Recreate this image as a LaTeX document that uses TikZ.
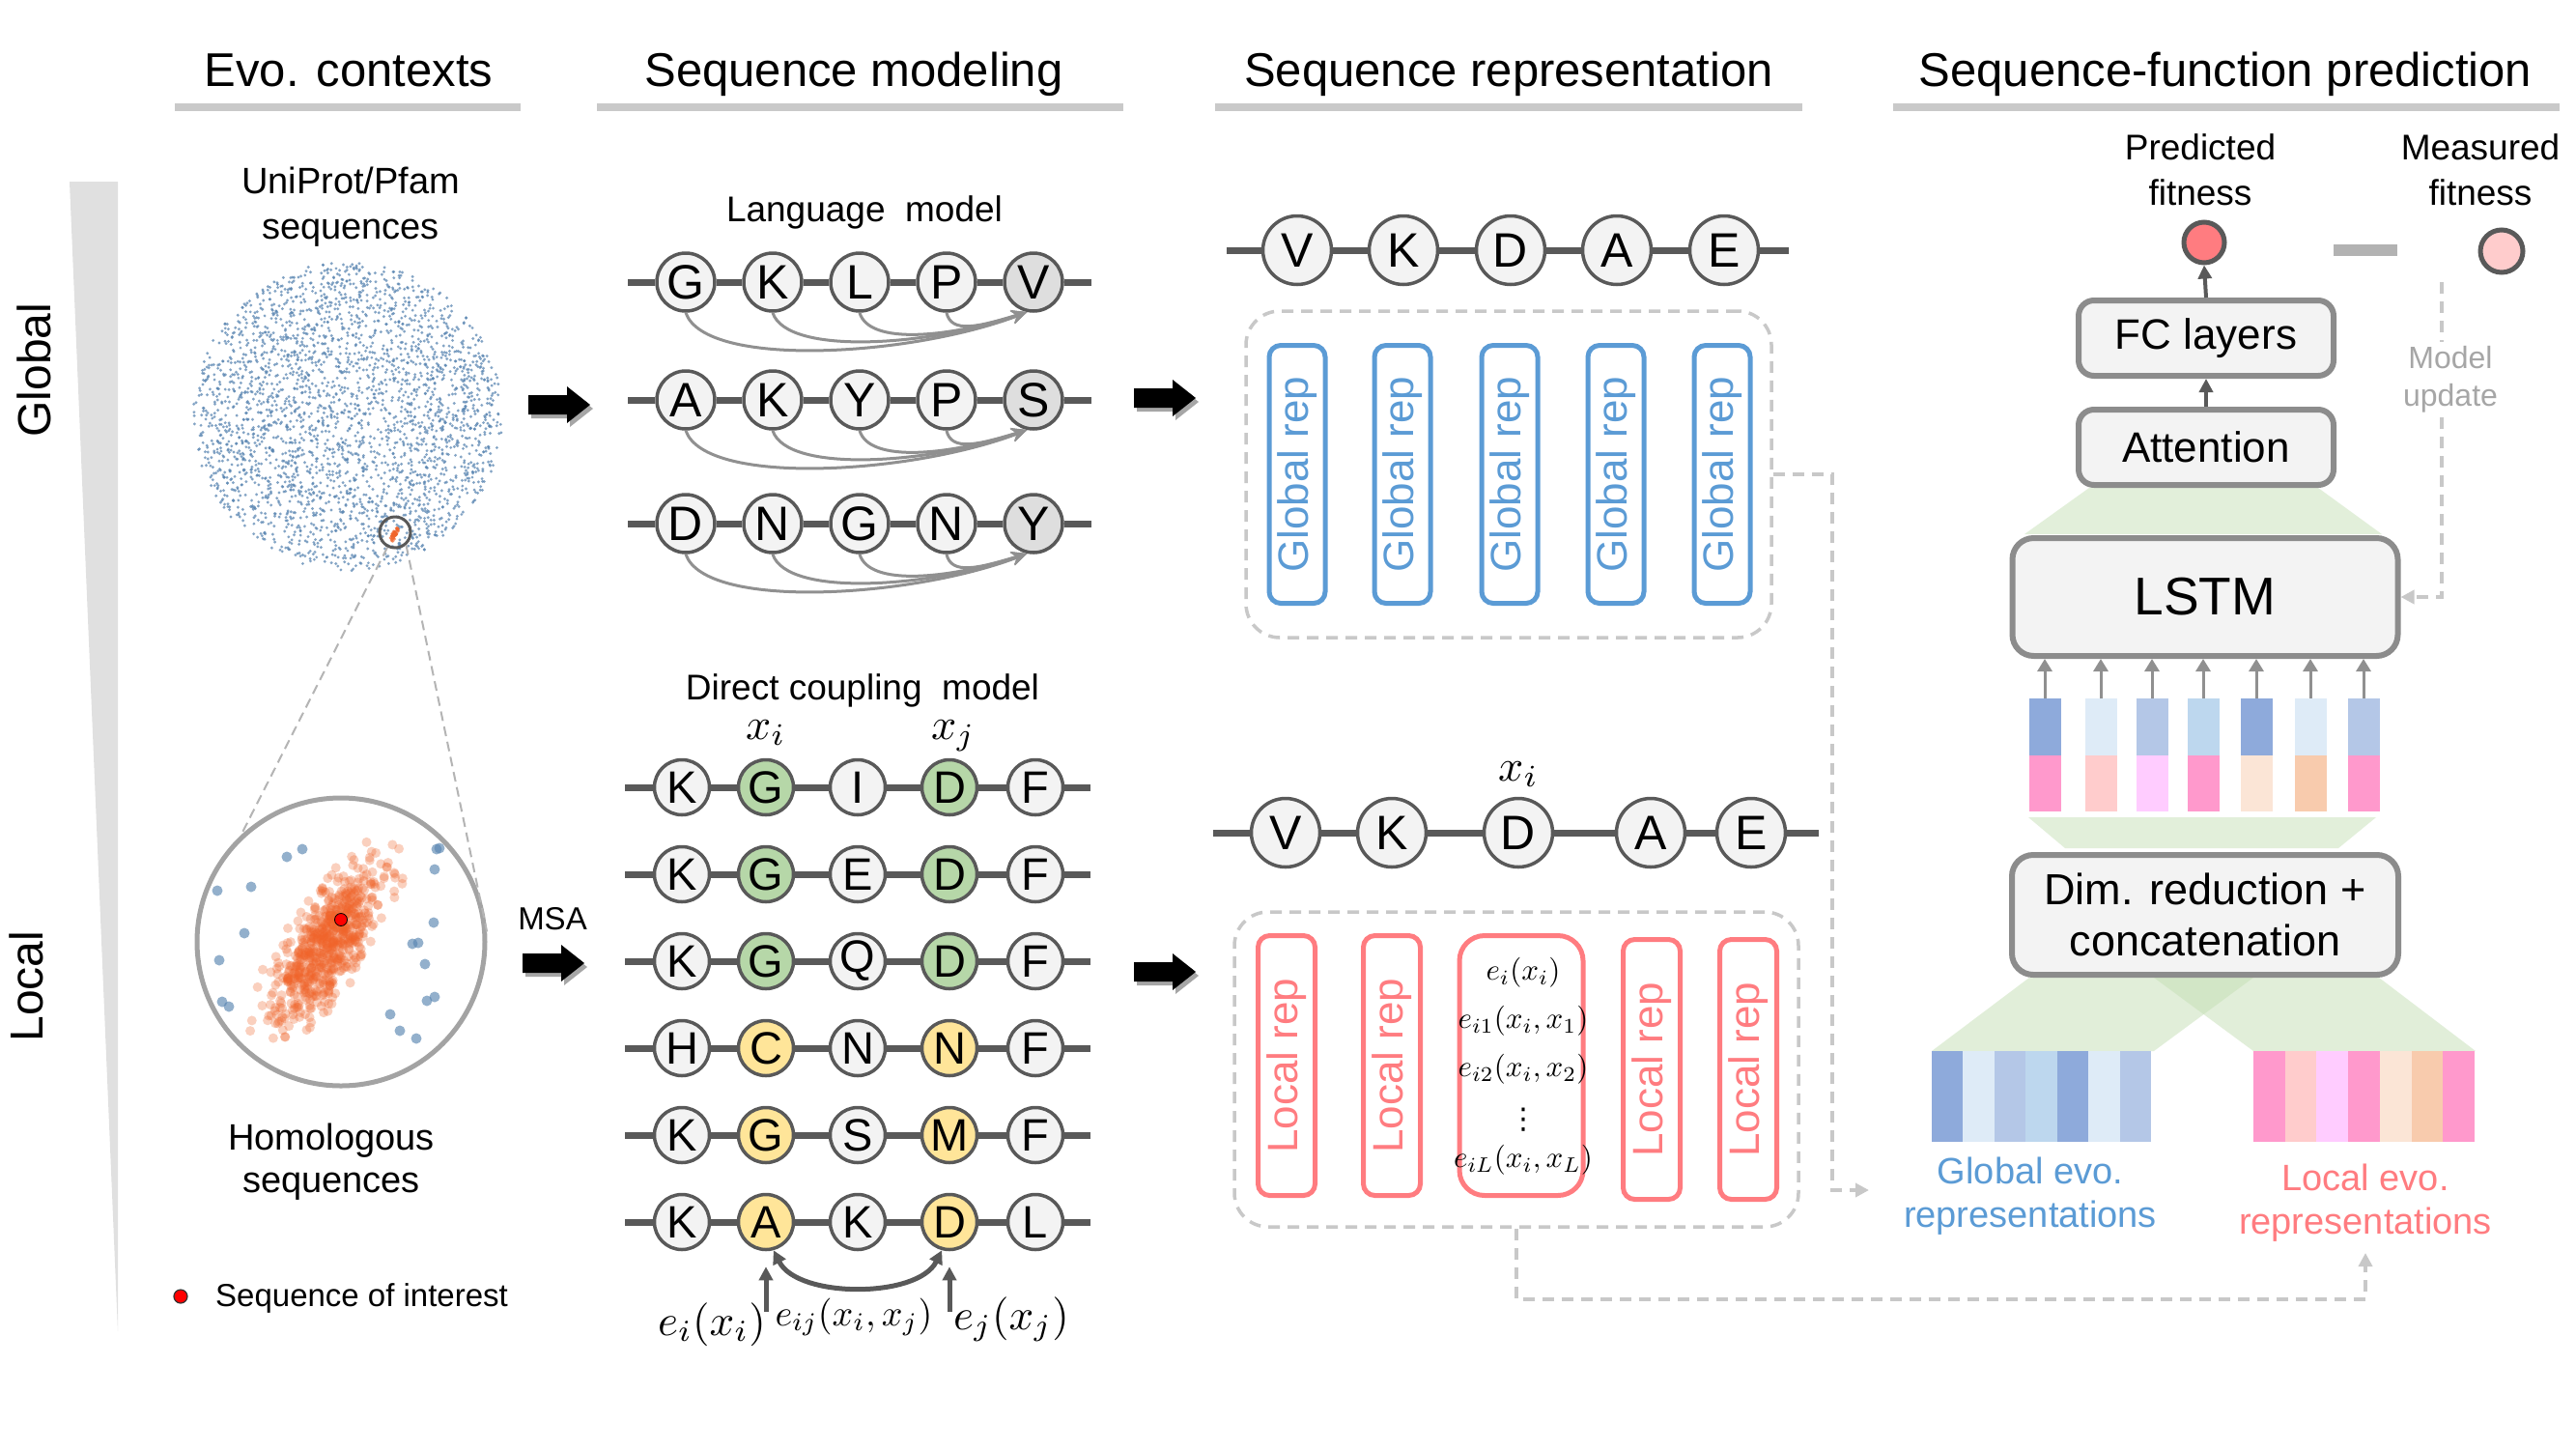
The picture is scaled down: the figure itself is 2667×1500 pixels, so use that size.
\documentclass[tikz,border=0pt]{standalone}
\usepackage{graphicx}
\usepackage[no-math]{fontspec}
\setmainfont{Liberation Sans}
\newfontfamily\dejavu{DejaVu Sans}
\usetikzlibrary{arrows.meta}
\newcommand{\fsz}[2]{\fontsize{#1}{#2}\selectfont}
\newcommand{\mth}[2]{\scalebox{#1}{\normalsize$#2$}}
\definecolor{cfill}{HTML}{F3F3F3}
\definecolor{cfilld}{HTML}{DEDEDE}
\definecolor{cedge}{HTML}{595959}
\definecolor{barg}{HTML}{C9C9C9}
\definecolor{arcg}{HTML}{909090}
\definecolor{gfill}{HTML}{B6D7A8}
\definecolor{yfill}{HTML}{FFE599}
\definecolor{bluerep}{HTML}{5B9BD5}
\definecolor{pinkrep}{HTML}{FF7C80}
\definecolor{boxedge}{HTML}{8C8C8C}
\definecolor{boxfill}{HTML}{F3F3F3}
\definecolor{trapl}{HTML}{E2EFDA}
\definecolor{trapd}{HTML}{C5DFB5}
\definecolor{dashg}{HTML}{C8C8C8}
\definecolor{wedgeg}{HTML}{E0E0E0}
\definecolor{b1}{HTML}{8EAADB}
\definecolor{b2}{HTML}{DEEBF7}
\definecolor{b3}{HTML}{B4C7E7}
\definecolor{b4}{HTML}{BDD7EE}
\definecolor{p1}{HTML}{FF99CC}
\definecolor{p2}{HTML}{FFCCCC}
\definecolor{p3}{HTML}{FFCCFF}
\definecolor{p4}{HTML}{FBE5D6}
\definecolor{p5}{HTML}{F8CBAD}
\definecolor{predc}{HTML}{FF7C80}
\definecolor{measc}{HTML}{FFCCCC}
\definecolor{scatb}{HTML}{5A86B2}
\definecolor{orng}{HTML}{F0642A}
\definecolor{updg}{HTML}{A6A6A6}
\begin{document}
\begin{tikzpicture}[x=1pt,y=-1pt,
  title/.style={font={\fsz{49}{58}}, anchor=base, inner sep=0},
  lab/.style={font={\fsz{38}{46}}, anchor=base, inner sep=0},
  bar/.style={line width=8, draw=barg},
  lmc/.style={circle, draw=cedge, line width=3.5, fill=cfill, minimum size=60, inner sep=0, font={\fsz{50}{56}}},
  dcc/.style={circle, draw=cedge, line width=3.5, fill=cfill, minimum size=57, inner sep=0, font={\fsz{47}{52}}},
  rpc/.style={circle, draw=cedge, line width=3.5, fill=cfill, minimum size=71, inner sep=0, font={\fsz{50}{56}}},
  bb/.style={line width=7, draw=cedge},
  lmarc/.style={line width=3, draw=arcg, -{Stealth[length=16pt,width=14pt]}},
  dcarc/.style={line width=5, draw=cedge, {Triangle[length=14pt,width=14pt]}-{Triangle[length=14pt,width=14pt]}},
  varr/.style={line width=5, draw=cedge, -{Triangle[length=14pt,width=14pt]}},
  grep/.style={draw=bluerep, line width=5, rounded corners=12, minimum width=267, minimum height=58, inner sep=0, rotate=90, text=bluerep, font={\fsz{44}{50}}},
  lrep/.style={draw=pinkrep, line width=5, rounded corners=12, minimum width=269, minimum height=59, inner sep=0, rotate=90, text=pinkrep, font={\fsz{44}{50}}},
  dbox/.style={draw=dashg, line width=3.5, dash pattern=on 12pt off 8pt, rounded corners=35, inner sep=0},
  dashc/.style={draw=dashg, line width=3.5, dash pattern=on 12pt off 8pt, -{Triangle[length=14pt,width=14pt]}},
  nnbox/.style={draw=boxedge, line width=6, fill=boxfill, rounded corners=16, inner sep=0},
  fitc/.style={circle, draw=cedge, line width=5, inner sep=0},
  darr/.style={line width=4, draw=cedge, -{Triangle[length=14pt,width=14pt]}},
  garr/.style={line width=3, draw=arcg, -{Triangle[length=13pt,width=15pt]}},
  blk/.style={minimum width=33, minimum height=59, inner sep=0, draw=none},
  scat/.style={fill=scatb, fill opacity=0.75},
  odot/.style={fill=orng, fill opacity=0.3},
  bdot/.style={fill=scatb, fill opacity=0.65},
  mathl/.style={anchor=base, inner sep=0},
  barrow/.pic={
    \begin{scope}[shift={(3,4)}]
      \fill[black!35] (0,-10) -- (40,-10) -- (40,-19) -- (64,0) -- (40,19) -- (40,10) -- (0,10) -- cycle;
    \end{scope}
    \fill[black] (0,-10) -- (40,-10) -- (40,-19) -- (64,0) -- (40,19) -- (40,10) -- (0,10) -- cycle;
  }
]
\useasboundingbox (0,0) rectangle (2667,1500);
\fill[white] (0,0) rectangle (2667,1500);

% ---------- titles ----------
\node[title] (t1) at (361,89) {Evo. contexts};
\node[title] (t2) at (884,89) {Sequence modeling};
\node[title] (t3) at (1562,89) {Sequence representation};
\node[title] (t4) at (2304,89) {Sequence-function prediction};
\draw[bar] (181,111) -- (539,111);
\draw[bar] (618,111) -- (1163,111);
\draw[bar] (1258,111) -- (1866,111);
\draw[bar] (1960,111) -- (2650,111);

% ---------- global/local wedge ----------
\fill[wedgeg] (72,188) -- (122,188) -- (122,1378) -- cycle;
\node[rotate=90, anchor=base, inner sep=0, font={\fsz{48}{54}}] (glab) at (52,383) {Global};
\node[rotate=90, anchor=base, inner sep=0, font={\fsz{48}{54}}] (llab) at (44,1021) {Local};

% ---------- evo contexts ----------
\node[lab] (up1) at (363,200) {UniProt/Pfam};
\node[lab] (up2) at (363,247) {sequences};
\pgfmathsetseed{7}
\foreach \k in {1,...,3000}{
  \pgfmathsetmacro\rr{160*sqrt(rnd)}
  \pgfmathsetmacro\aa{360*rnd}
  \fill[scat] ({360+\rr*cos(\aa)},{431+\rr*sin(\aa)}) circle[radius=1.6];
}
\foreach \k in {1,...,40}{
  \pgfmathsetmacro\ga{(rand+rand)*4.5}
  \pgfmathsetmacro\gb{rand*2.5}
  \fill[orng, fill opacity=0.7] ({409+\ga*0.5+\gb*0.87},{552-\ga*0.87+\gb*0.5}) circle[radius=1.8];
}
\node[circle, draw=cedge, line width=3, minimum size=32, inner sep=0] (hl) at (409,551) {};

\node[circle, draw=boxedge!80, line width=5, minimum size=298, inner sep=0] (loc) at (353,975) {};
\draw[dashg!90!black, line width=2, dash pattern=on 10pt off 6pt] (hl.243) -- (loc.133);
\draw[dashg!90!black, line width=2, dash pattern=on 10pt off 6pt] (hl.311) -- (loc.4);
\begin{scope}
  \clip (353,975) circle[radius=147];
  \foreach \px/\py in {225/922,260/918,297/887,313/879,253/966,227/994,230/1037,237/1042,452/879,455/878,450/900,449/955,427/977,433/976,440/998,450/1032,442/1036,404/1050,414/1067,431/1075}{
    \fill[bdot] (\px,\py) circle[radius=5.5];
  }
  \foreach \k in {1,...,650}{
    \pgfmathsetmacro\ga{(rand+rand+rand)*46}
    \pgfmathsetmacro\gb{(rand+rand+rand)*17}
    \fill[odot] ({338+\ga*0.515+\gb*0.857},{978-\ga*0.857+\gb*0.515}) circle[radius=5];
  }
\end{scope}
\node[circle, fill=red, draw=black, line width=0.8, minimum size=13, inner sep=0] (soi) at (353,952) {};
\node[lab] (hom1) at (343,1190) {Homologous};
\node[lab] (hom2) at (343,1234) {sequences};
\node[circle, fill=red, draw=black!80, line width=1.2, minimum size=14, inner sep=0] (legdot) at (187,1342) {};
\node[anchor=base west, inner sep=0, font={\fsz{33}{40}}] (legtxt) at (223,1352) {Sequence of interest};

% block arrows
\pic at (547,419) {barrow};
\node[anchor=base, inner sep=0, font={\fsz{33}{40}}] (msa) at (572,962) {MSA};
\pic at (541,997) {barrow};
\pic at (1174,412) {barrow};
\pic at (1174,1006) {barrow};

% ---------- language model ----------
\node[anchor=base, inner sep=0, font={\fsz{37}{44}}] (lmt) at (895,229) {Language\ \ model};
\foreach \rw/\yy/\va/\vb/\vc/\vd/\ve in {1/292/G/K/L/P/V,2/414/A/K/Y/P/S,3/542/D/N/G/N/Y}{
  \coordinate (lm\rw L) at (650,\yy);
  \coordinate (lm\rw R) at (1130,\yy);
  \node[lmc] (lm\rw a) at (710,\yy) {\va};
  \node[lmc] (lm\rw b) at (800,\yy) {\vb};
  \node[lmc] (lm\rw c) at (890,\yy) {\vc};
  \node[lmc] (lm\rw d) at (980,\yy) {\vd};
  \node[lmc, fill=cfilld] (lm\rw e) at (1070,\yy) {\ve};
  \draw[bb] (lm\rw L) -- (lm\rw a) -- (lm\rw b) -- (lm\rw c) -- (lm\rw d) -- (lm\rw e) -- (lm\rw R);
  \draw[lmarc] (lm\rw a.south) .. controls +(20,58) and +(-120,46) .. (lm\rw e.258);
  \draw[lmarc] (lm\rw b.south) .. controls +(15,45) and +(-100,35) .. (lm\rw e.258);
  \draw[lmarc] (lm\rw c.south) .. controls +(10,34) and +(-80,26) .. (lm\rw e.258);
  \draw[lmarc] (lm\rw d.south) .. controls +(5,22) and +(-50,15) .. (lm\rw e.258);
}

% ---------- direct coupling model ----------
\node[anchor=base, inner sep=0, font={\fsz{37}{44}}] (dct) at (893,724) {Direct coupling\ \ model};
\node[mathl] (xi) at (793,765) {\mth{4.6}{x_i}};
\node[mathl] (xj) at (987,765) {\mth{4.6}{x_j}};
\foreach \rw/\yy/\va/\vb/\vc/\vd/\ve/\cc in {1/815/K/G/I/D/F/gfill,2/905/K/G/E/D/F/gfill,3/995/K/G/Q/D/F/gfill,4/1085/H/C/N/N/F/yfill,5/1175/K/G/S/M/F/yfill,6/1265/K/A/K/D/L/yfill}{
  \coordinate (d\rw L) at (647,\yy);
  \coordinate (d\rw R) at (1129,\yy);
  \node[dcc] (d\rw a) at (706,\yy) {\va};
  \node[dcc, fill=\cc] (d\rw b) at (793,\yy) {\vb};
  \node[dcc] (d\rw c) at (888,\yy) {\vc};
  \node[dcc, fill=\cc] (d\rw d) at (983,\yy) {\vd};
  \node[dcc] (d\rw e) at (1072,\yy) {\ve};
  \draw[bb] (d\rw L) -- (d\rw a) -- (d\rw b) -- (d\rw c) -- (d\rw d) -- (d\rw e) -- (d\rw R);
}
\draw[dcarc] (d6b.-75) .. controls +(25,50) and +(-25,50) .. (d6d.-105);
\coordinate (eA) at (793,1358);
\coordinate (eD) at (983,1358);
\draw[varr, shorten >=16pt] (eA) -- (d6b.south);
\draw[varr, shorten >=16pt] (eD) -- (d6d.south);
\node[anchor=base, inner sep=0] (eil) at (737,1382) {\mth{4.5}{e_i(x_i)}};
\node[anchor=base, inner sep=0] (eijl) at (884,1372) {\mth{3.8}{e_{ij}(x_i,x_j)}};
\node[anchor=base, inner sep=0] (ejl) at (1047,1376) {\mth{4.5}{e_j(x_j)}};

% ---------- sequence representation: global ----------
\coordinate (gL) at (1270,259);
\coordinate (gR) at (1852,259);
\node[rpc] (gv) at (1343,259) {V};
\node[rpc] (gk) at (1453,259) {K};
\node[rpc] (gd) at (1564,259) {D};
\node[rpc] (ga) at (1674,259) {A};
\node[rpc] (ge) at (1785,259) {E};
\draw[bb] (gL) -- (gv) -- (gk) -- (gd) -- (ga) -- (ge) -- (gR);
\node[dbox, minimum width=544, minimum height=338] (gdash) at (1562,491) {};
\node[grep] (gr1) at (1343,491) {Global rep};
\node[grep] (gr2) at (1452,491) {Global rep};
\node[grep] (gr3) at (1563,491) {Global rep};
\node[grep] (gr4) at (1673,491) {Global rep};
\node[grep] (gr5) at (1783,491) {Global rep};

% ---------- sequence representation: local ----------
\node[mathl] (xil) at (1572,808) {\mth{4.6}{x_i}};
\coordinate (lL) at (1256,862);
\coordinate (lR) at (1883,862);
\node[rpc] (lv) at (1331,862) {V};
\node[rpc] (lk) at (1441,862) {K};
\node[rpc] (ld) at (1572,862) {D};
\node[rpc] (la) at (1709,862) {A};
\node[rpc] (le) at (1813,862) {E};
\draw[bb] (lL) -- (lv) -- (lk) -- (ld) -- (la) -- (le) -- (lR);
\node[dbox, minimum width=584, minimum height=326] (ldash) at (1570,1107) {};
\node[lrep] (lr1) at (1332,1103) {Local rep};
\node[lrep] (lr2) at (1441,1103) {Local rep};
\node[draw=pinkrep, line width=5, rounded corners=26, minimum width=128, minimum height=269, inner sep=0] (lr3) at (1575,1103) {};
\node[lrep] (lr4) at (1710,1107) {Local rep};
\node[lrep] (lr5) at (1810,1107) {Local rep};
\node[inner sep=0, align=center, font={\fsz{10}{50}}] (mlist) at (1577,1104)
  {\mth{3.1}{e_i(x_i)}\\ \mth{3.1}{e_{i1}(x_i,x_1)}\\ \mth{3.1}{e_{i2}(x_i,x_2)}\\[4pt] {\dejavu\fontsize{30}{30}\selectfont ⋮}\\[-10pt] \mth{3.1}{e_{iL}(x_i,x_L)}};

% ---------- sequence-function prediction ----------
\fill[trapl] (2163,505) -- (2400,505) -- (2466,553) -- (2096,553) -- cycle;
\fill[trapl] (2100,846) -- (2460,846) -- (2421,878) -- (2138,878) -- cycle;
\fill[trapd, fill opacity=0.5] (2101,1012) -- (2333,1012) -- (2230,1088) -- (2000,1088) -- cycle;
\fill[trapd, fill opacity=0.5] (2230,1012) -- (2463,1012) -- (2563,1088) -- (2333,1088) -- cycle;

\node[nnbox, minimum width=264, minimum height=78, font={\fsz{44}{50}}] (fc) at (2284,350) {FC layers};
\node[nnbox, minimum width=264, minimum height=78, font={\fsz{44}{50}}] (att) at (2284,463) {Attention};
\node[nnbox, minimum width=399, minimum height=122, rounded corners=22, font={\fsz{55}{60}}] (lstm) at (2283,618) {LSTM};
\node[nnbox, minimum width=400, minimum height=124, rounded corners=22, align=center, font={\fsz{45}{53}}] (dim) at (2283,947) {Dim. reduction +\\concatenation};

\node[fitc, fill=predc, minimum size=42] (pred) at (2282,251) {};
\node[fitc, fill=measc, minimum size=44] (meas) at (2590,260) {};
\draw[line width=12, draw=black!30] (2416,259) -- (2482,259);
\node[lab, font={\fsz{37}{44}}] (pt1) at (2278,165) {Predicted};
\node[lab, font={\fsz{37}{44}}] (pt2) at (2278,212) {fitness};
\node[lab, font={\fsz{37}{44}}] (mt1) at (2568,165) {Measured};
\node[lab, font={\fsz{37}{44}}] (mt2) at (2568,212) {fitness};
\draw[darr] (fc.north) -- (pred.south);
\draw[darr] (att.north) -- (fc.south);

\coordinate (mu) at (2528,292);
\draw[dashc] (mu) |- (lstm.east);
\node[fill=white, inner sep=5, align=center, text=updg, font={\fsz{32}{39}}] (mupd) at (2537,393) {Model\\update};

\foreach \i/\x/\bc/\pc in {1/2117/b1/p1,2/2175/b2/p2,3/2228/b3/p3,4/2281/b4/p1,5/2336/b1/p4,6/2392/b2/p5,7/2447/b3/p1}{
  \node[blk, fill=\bc] (bi\i) at (\x,752.5) {};
  \node[blk, fill=\pc, minimum height=58] (pi\i) at (\x,811) {};
  \draw[garr] (bi\i.north) -- (bi\i.north |- lstm.south);
}

% evo representation blocks
\foreach \i/\c in {0/b1,1/b2,2/b3,3/b4,4/b1,5/b2,6/b3}{
  \fill[\c] ({2000+32.43*\i},1088) rectangle ++(32.6,94);
}
\foreach \i/\c in {0/p1,1/p2,2/p3,3/p1,4/p4,5/p5,6/p1}{
  \fill[\c] ({2333+32.7*\i},1088) rectangle ++(32.9,94);
}
\node[lab, text=bluerep] (gev1) at (2102,1225) {Global evo.};
\node[lab, text=bluerep] (gev2) at (2102,1270) {representations};
\node[lab, text=pinkrep] (lev1) at (2449,1232) {Local evo.};
\node[lab, text=pinkrep] (lev2) at (2449,1277) {representations};

% dashed connectors
\coordinate (gend) at (1935,1232);
\coordinate (lend) at (2449,1297);
\draw[dashc] (gdash.east) -- (1897,491) |- (gend);
\draw[dashc] (ldash.south) -- (1570,1345) -| (lend);
\end{tikzpicture}
\end{document}
